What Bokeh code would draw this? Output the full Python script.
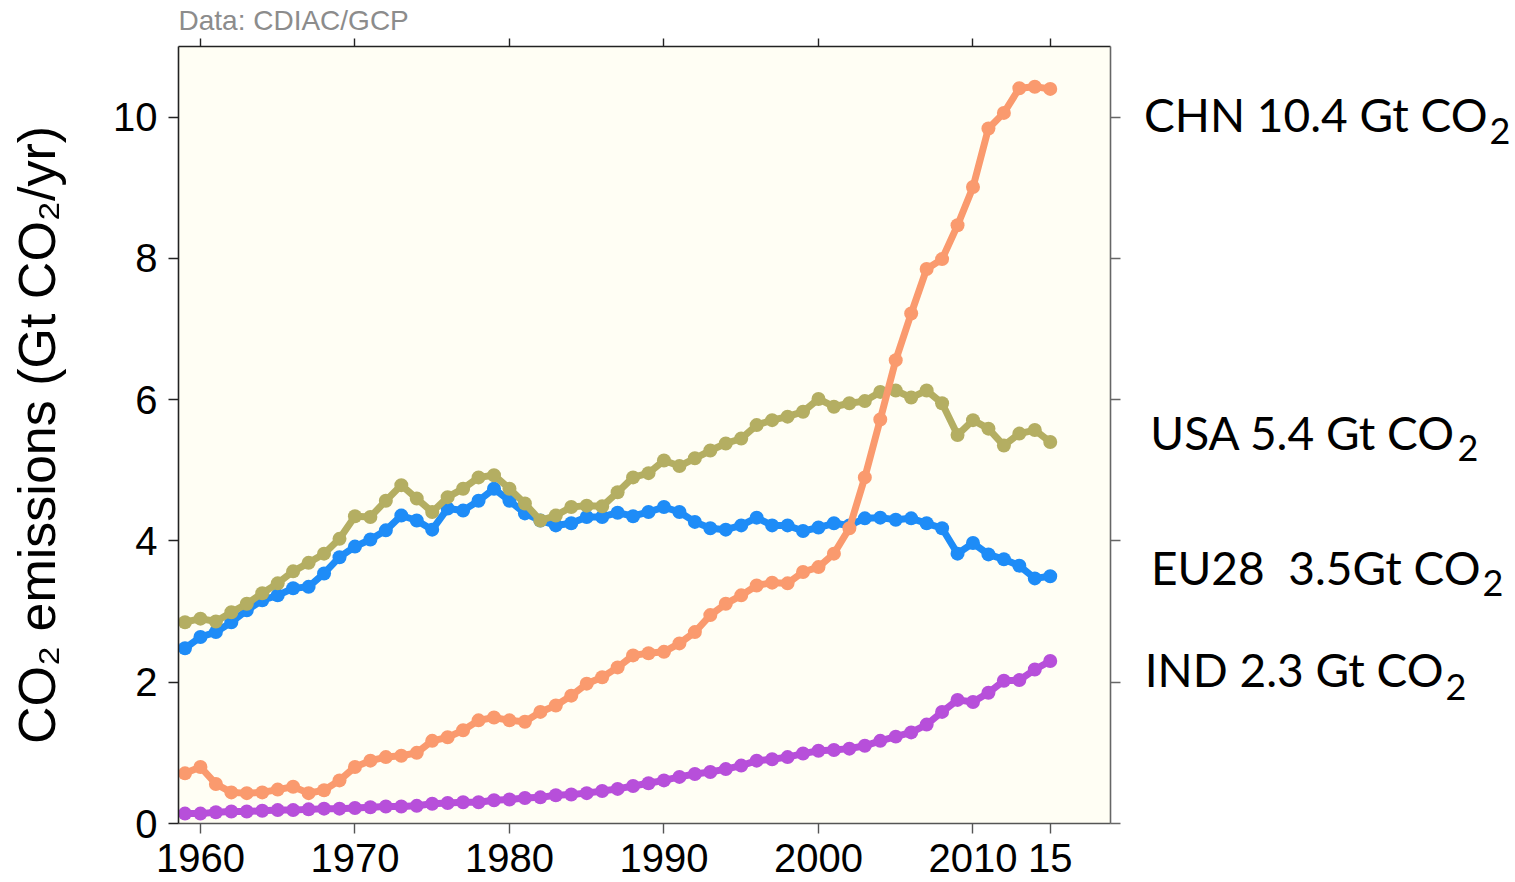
from bokeh.plotting import figure
from bokeh.models import LinearAxis, FixedTicker, Range1d
from bokeh.layouts import column, row
from bokeh.core.properties import value
from bokeh.embed import file_html
from bokeh.resources import INLINE

# Annual fossil CO2 emissions, Gt CO2 per year
years = list(range(1959, 2016))

chn = [0.71, 0.80, 0.56, 0.44, 0.43, 0.44, 0.48, 0.52, 0.43, 0.47, 0.61,
       0.80, 0.89, 0.94, 0.96, 1.00, 1.17, 1.22, 1.32, 1.46, 1.50,
       1.46, 1.44, 1.58, 1.67, 1.81, 1.98, 2.07, 2.21, 2.38, 2.41,
       2.43, 2.55, 2.71, 2.95, 3.11, 3.23, 3.37, 3.41, 3.40, 3.56,
       3.63, 3.82, 4.18, 4.90, 5.72, 6.56, 7.22, 7.85, 7.99, 8.47,
       9.01, 9.84, 10.06, 10.41, 10.43, 10.4]

usa = [2.85, 2.90, 2.86, 2.99, 3.11, 3.26, 3.40, 3.57, 3.69, 3.82, 4.03,
       4.35, 4.34, 4.57, 4.79, 4.60, 4.41, 4.62, 4.74, 4.90, 4.93,
       4.74, 4.53, 4.29, 4.36, 4.48, 4.50, 4.49, 4.69, 4.90, 4.96,
       5.14, 5.06, 5.17, 5.28, 5.38, 5.45, 5.64, 5.71, 5.76, 5.83,
       6.01, 5.90, 5.95, 5.98, 6.11, 6.13, 6.03, 6.13, 5.95, 5.50,
       5.71, 5.59, 5.35, 5.52, 5.57, 5.4]

eu28 = [2.48, 2.64, 2.71, 2.85, 3.02, 3.16, 3.23, 3.33, 3.35, 3.54, 3.77,
        3.92, 4.02, 4.15, 4.36, 4.29, 4.16, 4.46, 4.43, 4.57, 4.74,
        4.57, 4.39, 4.29, 4.22, 4.25, 4.34, 4.34, 4.40, 4.35, 4.41,
        4.48, 4.41, 4.27, 4.18, 4.16, 4.22, 4.33, 4.22, 4.22, 4.14,
        4.19, 4.25, 4.22, 4.32, 4.33, 4.30, 4.32, 4.25, 4.18, 3.82,
        3.97, 3.81, 3.74, 3.65, 3.47, 3.5]

ind = [0.14, 0.14, 0.16, 0.17, 0.17, 0.18, 0.19, 0.19, 0.20, 0.21, 0.21,
       0.22, 0.23, 0.24, 0.24, 0.25, 0.28, 0.29, 0.30, 0.30, 0.33,
       0.34, 0.36, 0.37, 0.40, 0.41, 0.43, 0.46, 0.49, 0.53, 0.57,
       0.61, 0.66, 0.70, 0.73, 0.77, 0.82, 0.89, 0.91, 0.94, 0.99,
       1.03, 1.04, 1.06, 1.10, 1.17, 1.23, 1.29, 1.40, 1.58, 1.75,
       1.72, 1.85, 2.02, 2.03, 2.18, 2.3]

x_ticks = [1960, 1970, 1980, 1990, 2000, 2010, 2015]
x_tick_labels = {2015: "15"}
y_ticks = [0, 2, 4, 6, 8, 10]

# drawing order: bottom to top
series = [
    ("IND", ind, "#B74FDA", "IND {:.1f} Gt CO"),
    ("EU28", eu28, "#1E8CF7", "EU28\u00a0 {:.1f}Gt CO"),
    ("USA", usa, "#B4AE62", "USA {:.1f} Gt CO"),
    ("CHN", chn, "#FA9A6E", "CHN {:.1f} Gt CO"),
]

TOTAL_W, TOTAL_H = 1515, 882
STRIP_H = 38                      # source note strip above the chart
MAIN_W = 1125                     # chart incl. right-hand ticks
SIDE_W = TOTAL_W - MAIN_W         # column of end-of-series labels
MAIN_H = TOTAL_H - STRIP_H
BORDER_L, BORDER_T, BORDER_B = 178, 8, 59
FRAME_R = 1110
X0, X1 = 1958.58, 2018.9
Y0, Y1 = 0.0, 11.0

TICK_FONT = "Liberation Sans"
LABEL_FONT = "Lato"
# vertical correction applied to alphabetic-baseline text, as a share of font size
BASELINE_SHIFT = 0.39

y_range = Range1d(Y0, Y1)

p = figure(width=MAIN_W, height=MAIN_H, output_backend="svg",
           toolbar_location=None,
           x_range=Range1d(X0, X1), y_range=y_range,
           min_border_left=BORDER_L, min_border_right=MAIN_W - FRAME_R,
           min_border_top=BORDER_T, min_border_bottom=BORDER_B,
           x_axis_location=None, y_axis_location=None)
p.background_fill_color = "#FFFEF4"
p.border_fill_color = "white"
p.outline_line_color = None
p.xgrid.visible = False
p.ygrid.visible = False


def style_axis(ax, color, show_labels):
    ax.axis_line_color = color
    ax.axis_line_width = 1.6
    ax.major_tick_line_color = color
    ax.major_tick_line_width = 1.4
    ax.major_tick_in = 0
    ax.major_tick_out = 10
    ax.minor_tick_line_color = None
    ax.major_label_text_font = TICK_FONT
    ax.major_label_text_color = "black"
    if show_labels:
        ax.major_label_text_font_size = "40px"
    else:
        ax.major_label_text_font_size = "0px"
        ax.major_label_text_alpha = 0
        ax.major_label_standoff = 0


bottom = LinearAxis(ticker=FixedTicker(ticks=x_ticks),
                    major_label_overrides=x_tick_labels)
style_axis(bottom, "#555555", True)
bottom.major_label_standoff = 10
p.add_layout(bottom, "below")

top = LinearAxis(ticker=FixedTicker(ticks=x_ticks))
style_axis(top, "#222222", False)
top.major_tick_out = 8
p.add_layout(top, "above")

left = LinearAxis(ticker=FixedTicker(ticks=y_ticks),
                  axis_label="CO\u2082 emissions (Gt CO\u2082/yr)")
style_axis(left, "#222222", True)
left.major_label_standoff = 11
left.axis_label_text_font = TICK_FONT
left.axis_label_text_font_size = "52px"
left.axis_label_text_font_style = "normal"
left.axis_label_text_color = "black"
left.axis_label_standoff = 44
p.add_layout(left, "left")

right = LinearAxis(ticker=FixedTicker(ticks=y_ticks))
style_axis(right, "#666666", False)
p.add_layout(right, "right")

for name, vals, color, _ in series:
    p.line(years, vals, line_color=color, line_width=7)
    p.scatter(years, vals, marker="circle", size=14,
              fill_color=color, line_color=None)

# source note above the chart (x, y in canvas pixels of the strip)
NOTE_SIZE = 28
note = figure(width=TOTAL_W, height=STRIP_H, output_backend="svg",
              toolbar_location=None,
              x_range=Range1d(0, TOTAL_W), y_range=Range1d(0, STRIP_H),
              min_border=0, x_axis_location=None, y_axis_location=None)
note.outline_line_color = None
note.xgrid.visible = False
note.ygrid.visible = False
note_baseline = 31
note.text(x=[BORDER_L], y=[STRIP_H - note_baseline + BASELINE_SHIFT * NOTE_SIZE],
          text=["Data: CDIAC/GCP"],
          text_font=value(TICK_FONT), text_font_size=f"{NOTE_SIZE}px",
          text_color="#8C8C8C", text_align="left",
          text_baseline="alphabetic")

# end-of-series value labels, sharing the chart's vertical scale
side = figure(width=SIDE_W, height=MAIN_H, output_backend="svg",
              toolbar_location=None,
              x_range=Range1d(MAIN_W, TOTAL_W), y_range=y_range,
              min_border_left=0, min_border_right=0,
              min_border_top=BORDER_T, min_border_bottom=BORDER_B,
              x_axis_location=None, y_axis_location=None)
side.outline_line_color = None
side.xgrid.visible = False
side.ygrid.visible = False

frame_top = STRIP_H + BORDER_T
frame_bottom = TOTAL_H - BORDER_B


def px_y(py, size):
    py = py - BASELINE_SHIFT * size
    return Y0 + (frame_bottom - py) * (Y1 - Y0) / (frame_bottom - frame_top)


MAIN_SIZE, SUB_SIZE = 46, 36
label_end_px = {"CHN": 1487, "USA": 1455, "EU28": 1480, "IND": 1443}
label_base_px = {"CHN": 132, "USA": 450, "EU28": 585, "IND": 687}
sub_base_px = {"CHN": 145, "USA": 462, "EU28": 597, "IND": 701}

main_x, main_y, main_t = [], [], []
sub_x, sub_y = [], []
for name, vals, color, fmt in series:
    main_x.append(label_end_px[name])
    main_y.append(px_y(label_base_px[name], MAIN_SIZE))
    main_t.append(fmt.format(vals[-1]))
    sub_x.append(label_end_px[name] + 2)
    sub_y.append(px_y(sub_base_px[name], SUB_SIZE))

side.text(x=main_x, y=main_y, text=main_t,
          text_font=value(LABEL_FONT), text_font_size=f"{MAIN_SIZE}px",
          text_color="black", text_align="right", text_baseline="alphabetic")
side.text(x=sub_x, y=sub_y, text=["2"] * len(sub_x),
          text_font=value(LABEL_FONT), text_font_size=f"{SUB_SIZE}px",
          text_color="black", text_align="left", text_baseline="alphabetic")

layout = column(note, row(p, side))
open("out.html", "w").write(file_html(layout, INLINE))
